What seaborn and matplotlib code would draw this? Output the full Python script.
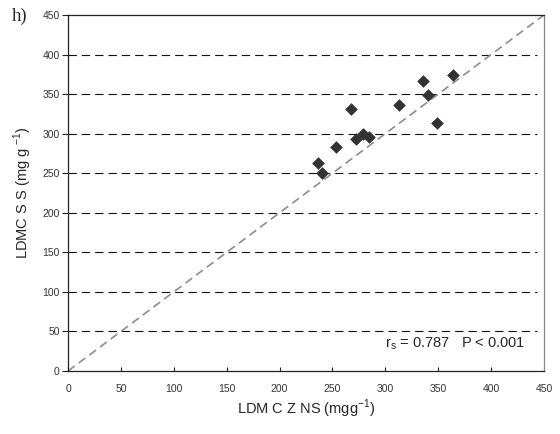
import matplotlib
matplotlib.use("Agg")
import matplotlib.pyplot as plt
import seaborn as sns
import pandas as pd

# Data
ldmc_z_ns = [236, 240, 253, 268, 272, 279, 285, 313, 336, 340, 349, 364]
ldmc_s_s = [263, 250, 283, 331, 293, 299, 296, 336, 367, 349, 313, 374]
x_ticks = [0, 50, 100, 150, 200, 250, 300, 350, 400, 450]
y_ticks = [0, 50, 100, 150, 200, 250, 300, 350, 400, 450]
line_x = [0, 450]
line_y = [0, 450]

sns.set_style("white")
plt.rcParams['font.family'] = ['Liberation Sans', 'DejaVu Sans']

df = pd.DataFrame({"x": ldmc_z_ns, "y": ldmc_s_s})

fig = plt.figure(figsize=(5.6, 4.34), dpi=100)
ax = fig.add_axes([68/560, 1-371/434, 476/560, 356/434])

# horizontal dashed gridlines
for yv in y_ticks[1:-1]:
    ax.axhline(yv, xmin=0, xmax=0.985, color="#111111", lw=0.8, ls=(0, (7.5, 4.5)), zorder=1)

sns.lineplot(x=line_x, y=line_y, ax=ax, color="#958a8a", lw=1.2,
             linestyle=(0, (5, 3)), zorder=2)
sns.scatterplot(data=df, x="x", y="y", ax=ax, marker="D", s=42, color="#333333",
                edgecolor="#333333", linewidth=0, zorder=3)

ax.set_xlim(0, 450)
ax.set_ylim(0, 450)
ax.set_xticks(x_ticks)
ax.set_yticks(y_ticks)
ax.tick_params(axis="both", labelsize=7.5, width=0.8, color="#222222",
               labelcolor="#333333", bottom=True, left=True)
ax.tick_params(axis="x", direction="in", length=3, pad=9)
ax.tick_params(axis="y", direction="out", length=4, pad=2)
for side in ["left", "bottom", "top"]:
    ax.spines[side].set_color("#222222")
    ax.spines[side].set_linewidth(0.9)
ax.spines["right"].set_color("#888888")
ax.spines["right"].set_linewidth(0.9)

ax.set_xlabel("LDM C Z NS (mgg$^{\\mathregular{-1}}$)", fontsize=10.5, labelpad=3)
ax.set_ylabel("LDMC S S (mg g $^{\\mathregular{ -1}}$)", fontsize=10.5, labelpad=6)

ax.text(432, 35, "r$_{\\mathregular{s}}$ = 0.787   P < 0.001", fontsize=10.5,
        ha="right", va="center")

fig.text(12/560, 1-16/434, "h)", fontsize=13.5, family=["Liberation Serif"],
         ha="left", va="center")

fig.savefig("out.png", dpi=100)
